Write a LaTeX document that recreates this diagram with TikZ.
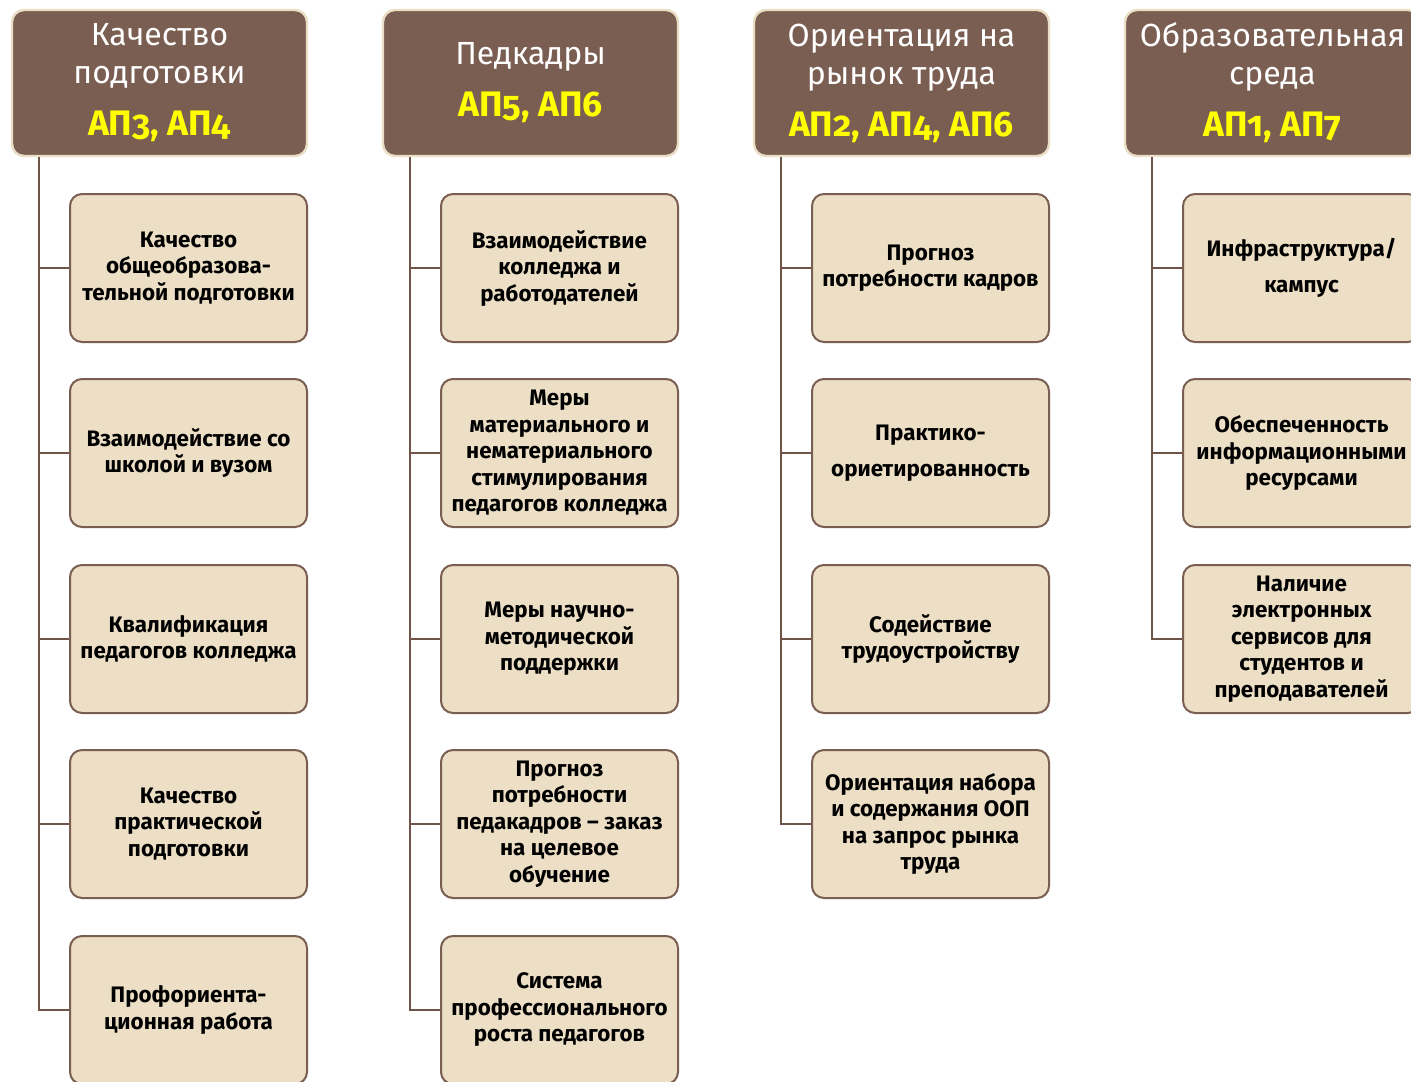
\documentclass[tikz,border=0pt]{standalone}
\usepackage{fontspec}
\setmainfont{Fira Sans}
\newfontfamily\apfont[Numbers=OldStyle]{Fira Sans}

\definecolor{headbrown}{HTML}{7A5E52}
\definecolor{headrim}{HTML}{EADFC4}
\definecolor{itemfill}{HTML}{ECDFC6}
\definecolor{itemrim}{HTML}{7A5E52}
\definecolor{treeline}{HTML}{6E5449}
\definecolor{apyellow}{HTML}{FFFF00}

\newcommand{\aplabel}[1]{{\apfont\fontsize{17.7}{22}\selectfont\bfseries\color{apyellow}#1}}

\begin{document}
\begin{tikzpicture}[x=0.5pt,y=-0.5pt,
    head/.style={draw=headrim,line width=1.2pt,fill=headbrown,rounded corners=6pt,
      minimum width=147.5pt,minimum height=73pt,inner sep=0pt,align=center,
      text=white,font=\fontsize{16}{19}\selectfont},
    item/.style={draw=itemrim,line width=1pt,fill=itemfill,rounded corners=6pt,
      minimum width=118.5pt,minimum height=74pt,inner sep=0pt,align=center,
      font=\fontsize{11.2}{13.25}\selectfont\bfseries},
    tree/.style={draw=treeline,line width=1pt}]
  \clip (0,0) rectangle (1411,1081);
  \useasboundingbox (0,0) rectangle (1411,1081);

  % Headers.
  \node[head] (h1) at (159.5,83) {Качество\\подготовки\\[7pt]\aplabel{АП3, АП4}};
  \node[head] (h2) at (530.5,83) {Педкадры\\[7pt]\aplabel{АП5, АП6}};
  \node[head] (h3) at (901.5,83) {Ориентация на\\рынок труда\\[7pt]\aplabel{АП2, АП4, АП6}};
  \node[head] (h4) at (1272.5,83) {Образовательная\\среда\\[7pt]\aplabel{АП1, АП7}};

  % First column.
  \node[item] (q1) at (188.5,268) {Качество\\общеобразова-\\тельной подготовки};
  \node[item] (q2) at (188.5,453) {Взаимодействие со\\школой и вузом};
  \node[item] (q3) at (188.5,639) {Квалификация\\педагогов колледжа};
  \node[item] (q4) at (188.5,824) {Качество\\практической\\подготовки};
  \node[item] (q5) at (188.5,1010) {Профориента-\\ционная работа};

  % Second column.
  \node[item] (p1) at (559.5,268) {Взаимодействие\\колледжа и\\работодателей};
  \node[item] (p2) at (559.5,453) {Меры\\материального и\\нематериального\\стимулирования\\педагогов колледжа};
  \node[item] (p3) at (559.5,639) {Меры научно-\\методической\\поддержки};
  \node[item] (p4) at (559.5,824) {Прогноз\\потребности\\педакадров – заказ\\на целевое\\обучение};
  \node[item] (p5) at (559.5,1010) {Система\\профессионального\\роста педагогов};

  % Third column.
  \node[item] (r1) at (930.5,268) {Прогноз\\потребности кадров};
  \node[item] (r2) at (930.5,453) {Практико-\\[5pt]ориетированность};
  \node[item] (r3) at (930.5,639) {Содействие\\трудоустройству};
  \node[item] (r4) at (930.5,824) {Ориентация набора\\и содержания ООП\\на запрос рынка\\труда};

  % Fourth column.
  \node[item] (s1) at (1301.5,268) {Инфраструктура/\\[5pt]кампус};
  \node[item] (s2) at (1301.5,453) {Обеспеченность\\информационными\\ресурсами};
  \node[item] (s3) at (1301.5,639) {Наличие\\электронных\\сервисов для\\студентов и\\преподавателей};

  % Trunks and branches.
  \draw[tree] ([xshift=14pt]h1.south west) |- (q1.west);
  \draw[tree] ([xshift=14pt]h1.south west) |- (q2.west);
  \draw[tree] ([xshift=14pt]h1.south west) |- (q3.west);
  \draw[tree] ([xshift=14pt]h1.south west) |- (q4.west);
  \draw[tree] ([xshift=14pt]h1.south west) |- (q5.west);

  \draw[tree] ([xshift=14pt]h2.south west) |- (p1.west);
  \draw[tree] ([xshift=14pt]h2.south west) |- (p2.west);
  \draw[tree] ([xshift=14pt]h2.south west) |- (p3.west);
  \draw[tree] ([xshift=14pt]h2.south west) |- (p4.west);
  \draw[tree] ([xshift=14pt]h2.south west) |- (p5.west);

  \draw[tree] ([xshift=14pt]h3.south west) |- (r1.west);
  \draw[tree] ([xshift=14pt]h3.south west) |- (r2.west);
  \draw[tree] ([xshift=14pt]h3.south west) |- (r3.west);
  \draw[tree] ([xshift=14pt]h3.south west) |- (r4.west);

  \draw[tree] ([xshift=14pt]h4.south west) |- (s1.west);
  \draw[tree] ([xshift=14pt]h4.south west) |- (s2.west);
  \draw[tree] ([xshift=14pt]h4.south west) |- (s3.west);
\end{tikzpicture}
\end{document}
